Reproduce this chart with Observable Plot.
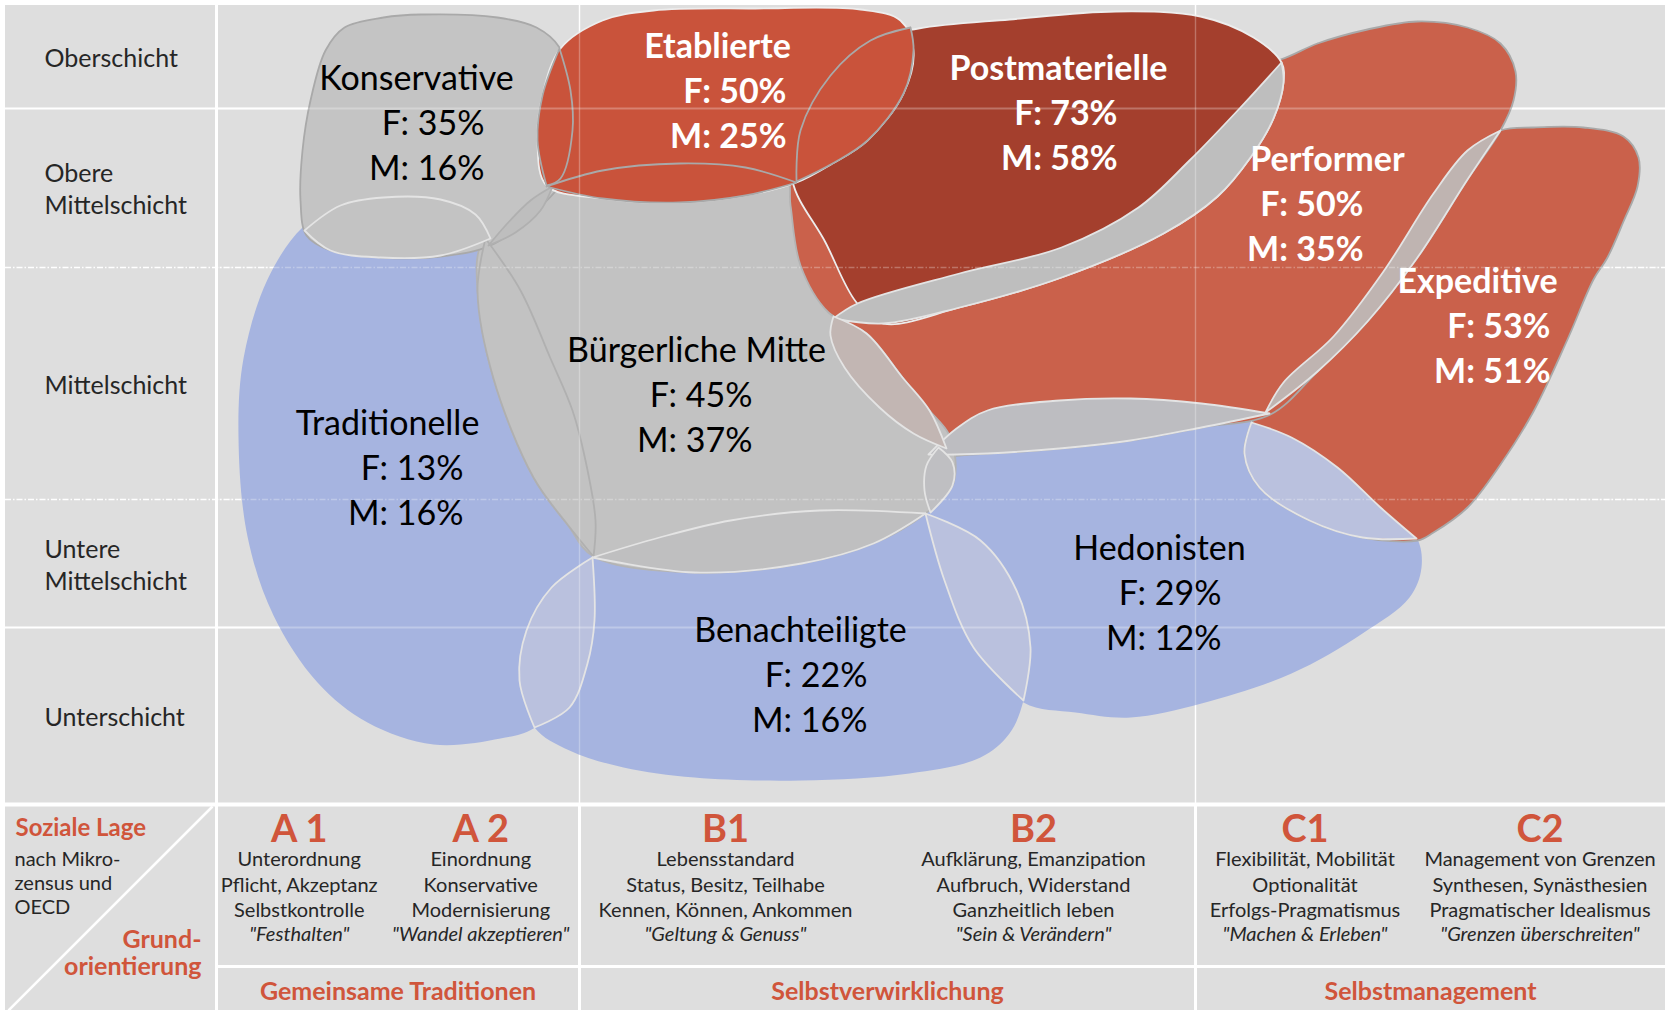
<!DOCTYPE html>
<html>
<head>
<meta charset="utf-8">
<script src="https://cdn.jsdelivr.net/npm/d3@7"></script>
<script src="https://cdn.jsdelivr.net/npm/@observablehq/plot@0.6"></script>
<style>
  html, body { margin: 0; padding: 0; background: #fff; }
  #chart svg { display: block; }
</style>
</head>
<body>
<div id="chart"></div>
<script>
// ---------- layout of the milieu map (units: map position, origin bottom-left) ----------
const columnEdges = [-211, 0, 363, 979, 1449];          // label column | A | B | C
const rowEdges = [799, 696, 537, 305, 177, 0, -162, -206]; // class rows, then table rows

// ---------- categories ----------
const classNames = ["Oberschicht", "Obere\nMittelschicht", "Mittelschicht", "Untere\nMittelschicht", "Unterschicht"];
const groupNames = ["Gemeinsame Traditionen", "Selbstverwirklichung", "Selbstmanagement"];
const codes = ["A 1", "A 2", "B1", "B2", "C1", "C2"];
const descriptions = [
  ["Unterordnung", "Pflicht, Akzeptanz", "Selbstkontrolle"],
  ["Einordnung", "Konservative", "Modernisierung"],
  ["Lebensstandard", "Status, Besitz, Teilhabe", "Kennen, Können, Ankommen"],
  ["Aufklärung, Emanzipation", "Aufbruch, Widerstand", "Ganzheitlich leben"],
  ["Flexibilität, Mobilität", "Optionalität", "Erfolgs-Pragmatismus"],
  ["Management von Grenzen", "Synthesen, Synästhesien", "Pragmatischer Idealismus"]
];
const mottos = ['"Festhalten"', '"Wandel akzeptieren"', '"Geltung & Genuss"', '"Sein & Verändern"', '"Machen & Erleben"', '"Grenzen überschreiten"'];

// ---------- milieus and values ----------
const milieuNames = ["Konservative", "Etablierte", "Postmaterielle", "Performer", "Expeditive", "Bürgerliche Mitte", "Traditionelle", "Benachteiligte", "Hedonisten"];
const femaleShare = [35, 50, 73, 50, 53, 45, 13, 22, 29];
const maleShare   = [16, 25, 58, 35, 51, 37, 16, 16, 12];
// label anchor on the map: [name centre x, name line y, right edge of value lines]
const labelAnchors = [[200, 725, 268], [501, 757, 570], [842, 735, 901], [1111, 644, 1147], [1261, 522, 1334],
                      [480, 453, 536], [171, 380, 247], [584, 173, 651], [943, 255, 1005]];

// ---------- milieu outlines on the map ----------
const shapeKonservative = [[109,754],[128,777],[167,787],[205,790],[281,787],[320,777],[343,757],[354,714],[356,674],[346,624],[314,589],[274,559],[224,548],[164,547],[114,554],[90,569],[84,604],[86,654],[94,704]];
const shapeTraditionelle = [[86,577],[124,599],[167,607],[224,605],[271,572],[304,514],[334,446],[356,394],[369,344],[379,284],[381,224],[376,164],[354,114],[317,76],[284,66],[217,60],[151,82],[101,122],[57,189],[31,268],[22,367],[27,446],[51,525]];
const shapeBenachteiligte = [[376,247],[443,267],[514,284],[603,294],[709,291],[764,264],[800,214],[814,157],[807,104],[793,71],[764,47],[693,31],[585,24],[478,27],[407,37],[353,54],[318,77],[303,124],[310,174],[335,217]];
const shapeHedonisten = [[732,371],[771,394],[843,404],[914,406],[985,401],[1053,391],[1075,367],[1121,337],[1164,297],[1200,267],[1205,237],[1193,207],[1146,171],[1075,131],[985,101],[914,87],[859,92],[807,102],[757,157],[728,224],[709,291],[708,314],[710,339]];
const shapeExpeditive = [[1284,674],[1317,677],[1367,677],[1407,668],[1422,647],[1421,618],[1407,583],[1391,547],[1377,525],[1351,465],[1317,393],[1284,340],[1251,297],[1217,272],[1201,264],[1146,267],[1093,284],[1043,317],[1028,351],[1035,381],[1044,395],[1067,422],[1117,468],[1167,533],[1217,611],[1251,654]];
const shapePerformer = [[1064,745],[1101,761],[1151,775],[1201,783],[1251,777],[1284,761],[1299,733],[1297,704],[1284,674],[1251,625],[1201,547],[1151,483],[1101,433],[1054,390],[985,377],[914,364],[843,356],[771,351],[718,351],[697,371],[663,397],[628,437],[604,484],[569,554],[559,609],[614,644],[734,679],[884,709],[1004,734]];
const shapePostmaterielle = [[576,624],[609,562],[640,502],[667,481],[743,497],[845,527],[947,571],[1001,608],[1034,647],[1057,686],[1067,722],[1065,742],[1037,767],[984,788],[899,793],[793,785],[702,776],[654,764],[614,729],[584,674]];
const shapeBuergerlicheMitte = [[330,619],[386,634],[463,641],[529,637],[570,627],[574,599],[584,539],[612,492],[650,471],[686,427],[713,394],[732,371],[739,344],[736,319],[709,291],[657,261],[585,241],[478,232],[377,248],[351,280],[317,327],[277,426],[261,514],[264,559],[289,586]];
const shapeEtablierte = [[330,619],[321,664],[326,709],[344,756],[386,784],[437,794],[539,796],[644,795],[684,784],[697,754],[687,711],[651,664],[616,641],[580,622],[529,609],[463,602],[386,606]];

// ---------- overlap zones (tips repeated) ----------
const overlapKonsTrad = [[88,574],[88,574],[124,599],[167,607],[224,605],[259,590],[274,566],[274,566],[224,549],[164,547],[114,554]];
const overlapKonsMitte = [[272,559],[272,559],[289,579],[314,604],[336,618],[336,618],[324,594],[299,572]];
const overlapEtabKons = [[343,756],[343,756],[354,714],[356,674],[344,626],[330,619],[330,619],[321,664],[326,709]];
const overlapEtabPost = [[694,777],[694,777],[697,754],[687,711],[651,664],[616,641],[580,623],[580,623],[584,674],[614,729],[654,764]];
const overlapEtabMitte = [[330,618],[330,618],[386,634],[463,641],[529,637],[580,622],[580,622],[529,609],[463,602],[386,606]];
const overlapMittePerf = [[617,488],[617,488],[650,471],[686,427],[713,394],[730,356],[730,356],[697,371],[663,397],[628,437],[614,469]];
const overlapMitteHed = [[722,357],[722,357],[736,342],[736,319],[714,292],[714,292],[708,314],[710,339]];
const overlapHedPerf = [[712,350],[712,350],[740,376],[771,394],[843,404],[914,406],[985,401],[1053,391],[1053,391],[985,377],[914,364],[843,356],[771,351],[740,350]];
const overlapHedExp = [[1035,382],[1035,382],[1075,367],[1121,337],[1164,297],[1200,266],[1200,266],[1146,267],[1093,284],[1043,317],[1028,351]];
const overlapPerfExp = [[1284,674],[1284,674],[1251,625],[1201,547],[1151,483],[1101,433],[1049,392],[1049,392],[1067,422],[1117,468],[1167,533],[1217,611],[1251,654]];
const overlapBenMitte = [[376,247],[376,247],[443,267],[514,284],[603,294],[709,291],[709,291],[657,261],[585,241],[478,232]];
const overlapTradBen = [[376,247],[376,247],[378,184],[371,141],[353,97],[318,77],[318,77],[303,124],[310,174],[335,217]];
const overlapBenHed = [[709,291],[709,291],[764,264],[800,214],[814,157],[807,104],[807,104],[757,157],[728,224]];
const overlapTradMitte = [[269,566],[269,566],[261,514],[277,426],[317,327],[351,280],[377,248],[377,248],[379,284],[369,344],[356,394],[334,446],[304,514]];
const overlapPostPerf = [[1065,742],[1065,742],[1024,697],[973,644],[922,597],[845,557],[743,531],[641,501],[617,486],[617,486],[667,481],[743,497],[845,527],[947,571],[1001,608],[1034,647],[1057,686],[1067,722]];

// ---------- styles ----------
const C = {
  bg: "#DEDEDE", blue: "#A6B4E0", lightBlue: "#BAC1DE", grey: "#C2C2C2", greyLens: "#BEBEBE",
  etab: "#C9533B", post: "#A43F2D", perf: "#CA614B", pinkGrey: "#C2B6B3",
  edgeGrey: "#A9A9A9", edgeLight: "#E4E4E4", red: "#D0553B", text: "#262626"
};
const shapes = [
  [shapeTraditionelle, C.blue, "none"],
  [shapeBenachteiligte, C.blue, "none"],
  [shapeHedonisten, C.blue, "none"],
  [shapeExpeditive, C.perf, C.edgeGrey],
  [shapePerformer, C.perf, C.edgeGrey],
  [shapePostmaterielle, C.post, "#EDEDED"],
  [shapeBuergerlicheMitte, C.grey, "#B4B4B4"],
  [shapeKonservative, "#C4C4C4", C.edgeGrey],
  [shapeEtablierte, C.etab, "#EDEDED"],
  [overlapTradMitte, C.grey, "#B0B0B0"],
  [overlapKonsTrad, "#C3C3C3", C.edgeLight],
  [overlapKonsMitte, C.greyLens, "#B0B0B0"],
  [overlapEtabKons, C.etab, C.edgeGrey],
  [overlapEtabPost, C.etab, C.edgeGrey],
  [overlapEtabMitte, C.etab, C.edgeGrey],
  [overlapPostPerf, C.greyLens, C.edgeLight],
  [overlapHedPerf, "#BDBDC1", C.edgeLight],
  [overlapMittePerf, C.pinkGrey, C.edgeLight],
  [overlapMitteHed, "#BFBFC2", C.edgeLight],
  [overlapHedExp, C.lightBlue, C.edgeLight],
  [overlapPerfExp, "#BFB4B1", C.edgeLight],
  [overlapBenMitte, "#BFBFC0", C.edgeLight],
  [overlapTradBen, C.lightBlue, C.edgeLight],
  [overlapBenHed, C.lightBlue, C.edgeLight]
];

// ---------- derived tables ----------
const [xLeft, xA, xB, xC, xRight] = columnEdges;
const chartTop = rowEdges[0], chartBottom = rowEdges[5], tableBottom = rowEdges[6], pageBottom = rowEdges[7];
const classRows = classNames.map((label, i) => ({label, y1: rowEdges[i + 1], y2: rowEdges[i]}));
const classBounds = classRows.slice(1).map((r, i) => ({
  y: r.y2,
  dotted: r.label.includes("Mittelschicht") && classRows[i].label.includes("Mittelschicht")
}));
const groups = groupNames.map((name, i) => ({name, x1: columnEdges[i + 1], x2: columnEdges[i + 2]}));
const subColumns = codes.map((code, i) => {
  const g = groups[Math.floor(i / 2)], j = i % 2;
  return {code, desc: descriptions[i].join("\n"), motto: mottos[i], x: g.x1 + (g.x2 - g.x1) * (j + 0.5) / 2};
});
const milieus = milieuNames.map((name, i) => ({
  name, f: femaleShare[i], m: maleShare[i],
  x: labelAnchors[i][0], y: labelAnchors[i][1], vx: labelAnchors[i][2],
  modern: ["Etablierte", "Postmaterielle", "Performer", "Expeditive"].includes(name)
}));
const verticals = [xA, xB, xC].map((x, i) => ({x, w: i === 0 ? 3 : 1.4}));

const X = d => d[0], Y = d => d[1];
const gridMarks = (opacity) => [
  Plot.ruleY(classBounds.filter(b => !b.dotted), {y: "y", x1: opacity < 1 ? xA : xLeft, x2: xRight, stroke: "#fff", strokeWidth: 2, strokeOpacity: opacity}),
  Plot.ruleY(classBounds.filter(b => b.dotted), {y: "y", x1: opacity < 1 ? xA : xLeft, x2: xRight, stroke: "#fff", strokeWidth: 1.4, strokeDasharray: "6,2,1.5,2", strokeOpacity: opacity}),
  Plot.ruleX(opacity < 1 ? verticals.slice(1) : verticals, {x: "x", y1: chartBottom, y2: chartTop, stroke: "#fff", strokeWidth: "w", strokeOpacity: opacity})
];

const font = "Lato, 'Open Sans', sans-serif";

const chart = Plot.plot({
  width: 1665,
  height: 1010,
  marginLeft: 216, marginRight: 0, marginTop: 5, marginBottom: 206,
  x: {domain: [xA, xRight], axis: null},
  y: {domain: [chartBottom, chartTop], axis: null},
  style: {fontFamily: font, background: "#fff", overflow: "visible"},
  marks: [
    // background cells
    Plot.rect([{x1: xLeft, x2: xRight, y1: pageBottom, y2: chartTop}], {x1: "x1", x2: "x2", y1: "y1", y2: "y2", fill: C.bg}),
    ...gridMarks(1),
    // table lines
    Plot.ruleY([{y: chartBottom}], {y: "y", x1: xLeft, x2: xRight, stroke: "#fff", strokeWidth: 4}),
    Plot.ruleY([{y: tableBottom}], {y: "y", x1: xA, x2: xRight, stroke: "#fff", strokeWidth: 3}),
    Plot.ruleX([xA, xB, xC], {x: d => d, y1: pageBottom, y2: chartBottom, stroke: "#fff", strokeWidth: 3}),
    Plot.link([{x1: xA - 4, y1: chartBottom - 2, x2: xLeft + 3, y2: pageBottom}], {x1: "x1", y1: "y1", x2: "x2", y2: "y2", stroke: "#fff", strokeWidth: 2.5}),

    // milieu shapes and overlap zones
    ...shapes.map(([pts, fill, stroke]) => Plot.line(pts, {
      x: X, y: Y, curve: "catmull-rom-closed", fill, stroke, strokeWidth: 1.8, strokeLinejoin: "round"
    })),

    // faint grid over the shapes
    ...gridMarks(0.28),

    // milieu labels
    Plot.text(milieus.filter(d => !d.modern), {x: "x", y: "y", text: "name", fontSize: 34, fill: "#000"}),
    Plot.text(milieus.filter(d => !d.modern), {x: "vx", y: "y", text: d => `F: ${d.f}%`, dy: 45, textAnchor: "end", fontSize: 34, fill: "#000"}),
    Plot.text(milieus.filter(d => !d.modern), {x: "vx", y: "y", text: d => `M: ${d.m}%`, dy: 90, textAnchor: "end", fontSize: 34, fill: "#000"}),
    Plot.text(milieus.filter(d => d.modern), {x: "x", y: "y", text: "name", fontSize: 34, fontWeight: 700, fill: "#fff"}),
    Plot.text(milieus.filter(d => d.modern), {x: "vx", y: "y", text: d => `F: ${d.f}%`, dy: 45, textAnchor: "end", fontSize: 34, fontWeight: 700, fill: "#fff"}),
    Plot.text(milieus.filter(d => d.modern), {x: "vx", y: "y", text: d => `M: ${d.m}%`, dy: 90, textAnchor: "end", fontSize: 34, fontWeight: 700, fill: "#fff"}),

    // social class labels
    Plot.text(classRows, {x: xLeft + 39, y: d => (d.y1 + d.y2) / 2, text: "label", textAnchor: "start", fontSize: 25, lineHeight: 1.28, fill: C.text}),

    // table: codes, descriptions, mottos
    Plot.text(subColumns, {x: "x", y: chartBottom, text: "code", lineAnchor: "top", dy: 11, dx: -8, fontSize: 38, fontWeight: 700, fill: C.red}),
    Plot.text(subColumns, {x: "x", y: chartBottom, text: "desc", lineAnchor: "top", dy: 44, dx: -8, fontSize: 20, lineHeight: 1.26, fill: C.text}),
    Plot.text(subColumns, {x: "x", y: chartBottom, text: "motto", lineAnchor: "top", dy: 122, dx: -8, fontSize: 20, fontStyle: "italic", fill: C.text}),
    Plot.text(groups, {x: d => (d.x1 + d.x2) / 2, y: tableBottom, text: "name", lineAnchor: "top", dy: 16, fontSize: 25, fontWeight: 700, fill: C.red}),

    // corner cell
    Plot.text(["Soziale Lage"], {x: xLeft + 10, y: chartBottom, text: d => d, textAnchor: "start", lineAnchor: "top", dy: 14, fontSize: 24, fontWeight: 700, fill: C.red}),
    Plot.text(["nach Mikro-\nzensus und\nOECD"], {x: xLeft + 9, y: chartBottom, text: d => d, textAnchor: "start", lineAnchor: "top", dy: 44, fontSize: 20, lineHeight: 1.2, fill: C.text}),
    Plot.text(["Grund-\norientierung"], {x: xA - 15, y: chartBottom, text: d => d, textAnchor: "end", lineAnchor: "top", dy: 124, fontSize: 25, lineHeight: 1.08, fontWeight: 700, fill: C.red})
  ]
});

document.getElementById("chart").appendChild(chart);
</script>
</body>
</html>
